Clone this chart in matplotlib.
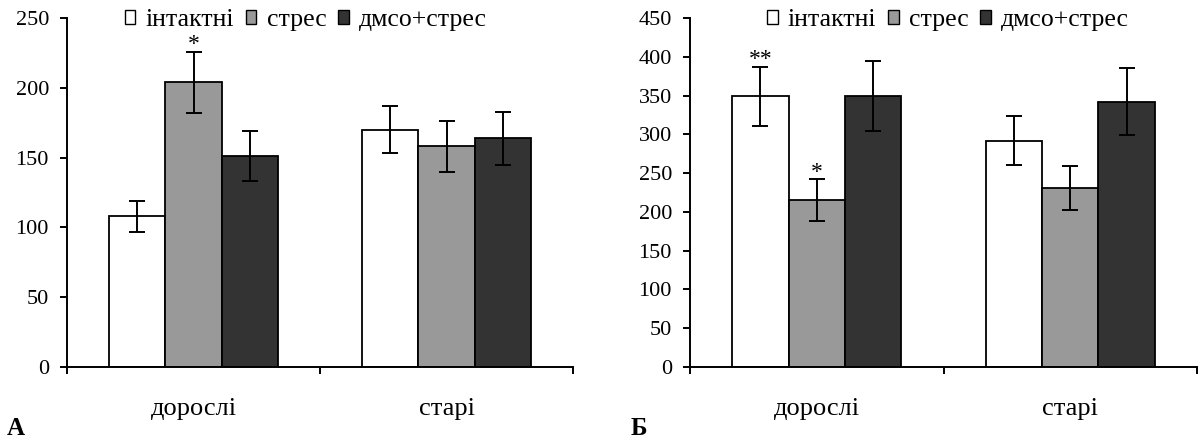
import numpy as np
import matplotlib
matplotlib.use("Agg")
import matplotlib.pyplot as plt

groups = ["дорослі", "старі"]
series = ["інтактні", "стрес", "дмсо+стрес"]
colors = ["#ffffff", "#999999", "#333333"]

# panel A
a_vals = [[108, 170], [204, 158], [151, 164]]
a_err = [[11, 17], [22, 18], [18, 19]]
a_marks = {(1, 0): "*"}

# panel B
b_vals = [[349, 292], [215, 231], [349, 342]]
b_err = [[38, 32], [27, 28], [45, 43]]
b_marks = {(0, 0): "**", (1, 0): "*"}

plt.rcParams["font.family"] = ["Liberation Serif", "DejaVu Serif"]
plt.rcParams["font.size"] = 16


def draw_panel(ax, vals, errs, marks, ymax, legend_x):
    width = 0.222
    centers = np.array([0.5, 1.5])
    for i, (v, e) in enumerate(zip(vals, errs)):
        x = centers + (i - 1) * width
        ax.bar(x, v, width, color=colors[i], edgecolor="black", linewidth=1.3,
               label=series[i], zorder=2)
        ax.errorbar(x, v, yerr=e, fmt="none", ecolor="black", elinewidth=1.4,
                    capsize=5.6, capthick=1.4, zorder=3)
        for j in range(len(v)):
            if (i, j) in marks:
                ax.annotate(marks[(i, j)], (x[j], v[j] + e[j]), xytext=(0, 1),
                            textcoords="offset points", ha="center",
                            va="baseline", fontsize=17)
    ax.set_xlim(0, 2)
    ax.set_ylim(0, ymax)
    ax.set_yticks(np.arange(0, ymax + 1, 50))
    ax.set_xticks([0, 1, 2])
    ax.set_xticklabels([])
    for c, g in zip(centers, groups):
        ax.text(c, -0.1375, g, transform=ax.get_xaxis_transform(),
                ha="center", va="baseline", fontsize=19)
    ax.spines["top"].set_visible(False)
    ax.spines["right"].set_visible(False)
    ax.spines["left"].set_linewidth(1.4)
    ax.spines["bottom"].set_linewidth(1.4)
    ax.tick_params(axis="both", direction="out", length=5, width=1.4)
    ax.tick_params(axis="y", labelsize=16, pad=8)
    leg = ax.legend(loc="center", bbox_to_anchor=(legend_x, 0.993), ncol=3,
                    frameon=False, handlelength=0.42, handleheight=0.45,
                    handletextpad=0.4, columnspacing=0.45, fontsize=18.5,
                    borderpad=0.1)
    for h in leg.legend_handles:
        h.set_linewidth(1.0)


fig = plt.figure(figsize=(12.04, 4.44), dpi=100)
ax1 = fig.add_axes([67 / 1204, 77 / 444, 506 / 1204, 349 / 444])
ax2 = fig.add_axes([690 / 1204, 77 / 444, 507 / 1204, 349 / 444])
draw_panel(ax1, a_vals, a_err, a_marks, 250, 0.472)
draw_panel(ax2, b_vals, b_err, b_marks, 450, 0.509)
fig.text(7 / 1204, 9 / 444, "А", fontsize=18, fontweight="bold", ha="left", va="baseline")
fig.text(631 / 1204, 9 / 444, "Б", fontsize=18, fontweight="bold", ha="left", va="baseline")
fig.savefig("out.png", dpi=100)
